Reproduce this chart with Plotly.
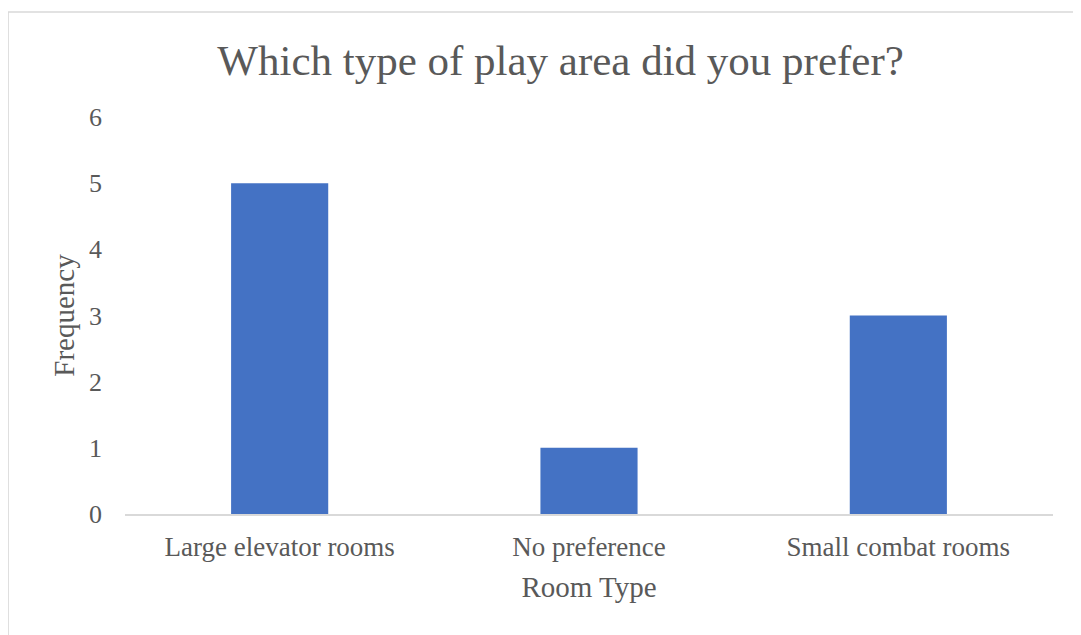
import plotly.graph_objects as go

categories = ["Large elevator rooms", "No preference", "Small combat rooms"]
frequency = [5, 1, 3]
y_ticks = [0, 1, 2, 3, 4, 5, 6]

FONT = "Liberation Serif, Times New Roman, serif"
GRAY = "#595959"

fig = go.Figure(
    go.Bar(x=categories, y=frequency, marker=dict(color="#4472C4", line=dict(width=0)))
)

fig.update_layout(
    width=1073,
    height=627,
    margin=dict(l=117, r=28, t=109, b=121),
    paper_bgcolor="white",
    plot_bgcolor="white",
    bargap=0.686,
    showlegend=False,
    font=dict(family=FONT, color=GRAY, size=26),
    title=dict(
        text="Which type of play area did you prefer?",
        font=dict(family=FONT, size=43, color=GRAY),
        x=0.515, xanchor="center",
        y=0.917, yanchor="middle",
    ),
    shapes=[
        dict(type="rect", xref="paper", yref="paper", x0=-0.126, x1=1.026, y0=-0.4, y1=1.2645,
             line=dict(color="#D9D9D9", width=1.5), fillcolor="rgba(0,0,0,0)", layer="below"),
    ],
)

fig.update_xaxes(
    showline=True, linecolor="#D9D9D9", linewidth=1.5,
    showgrid=False, ticks="", zeroline=False, ticklabelstandoff=8,
    tickfont=dict(family=FONT, size=27, color=GRAY),
    title=dict(text="Room Type", font=dict(family=FONT, size=29, color=GRAY), standoff=16),
)
fig.update_yaxes(
    range=[0, 6], tickvals=y_ticks, showgrid=False, zeroline=False, showline=False,
    ticks="", ticklabelstandoff=22,
    tickfont=dict(family=FONT, size=26, color=GRAY),
    title=dict(text="Frequency", font=dict(family=FONT, size=29, color=GRAY), standoff=5),
)

fig.write_html("out.html")
